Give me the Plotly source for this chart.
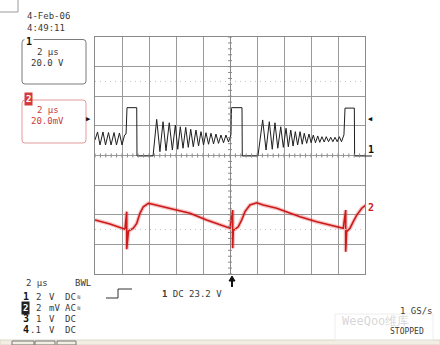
import plotly.graph_objects as go

W, H = 440, 345
GX0, GX1, GY0, GY1 = 95, 365, 37, 274

# ---- data ----
# Channel 1 (V, 20 V/div), time in microseconds, trigger at 0
ch1_t = [-10.00, -9.81, -9.63, -9.41, -9.22, -9.00, -8.81, -8.59, -8.41, -8.19, -8.00, -7.81, -7.70,
         -7.63, -6.91, -6.89, -5.70,
         -5.43, -5.19, -4.96, -4.74, -4.50, -4.27, -4.05, -3.87, -3.68, -3.48, -3.28, -3.09, -2.91,
         -2.72, -2.52, -2.33, -2.15, -1.96, -1.78, -1.59, -1.41, -1.22, -1.04, -0.85, -0.67, -0.48,
         -0.30, -0.11, 0.07, 0.11, 0.89, 0.91, 2.07,
         2.42, 2.67, 2.91, 3.13, 3.33, 3.54, 3.76, 3.95, 4.15, 4.32, 4.50, 4.67, 4.84, 5.01, 5.19,
         5.35, 5.50, 5.68, 5.85, 6.01, 6.17, 6.33, 6.50, 6.65, 6.81, 6.98, 7.13, 7.30, 7.46, 7.62,
         7.78, 7.94, 8.10, 8.26, 8.44, 8.52, 9.21, 9.23, 10.00]
ch1_v = [10.5, 15.9, 7.1, 15.9, 7.1, 15.5, 7.1, 15.5, 7.1, 15.2, 7.1, 13.8, 14.5,
         32.3, 32.3, -0.3, -0.3,
         24.4, 2.6, 22.8, 3.2, 22.1, 3.7, 20.6, 4.2, 19.4, 4.9, 19.0, 5.5, 17.7,
         5.9, 17.2, 6.4, 16.1, 7.1, 15.4, 7.6, 15.0, 7.8, 14.5, 8.2, 13.8, 8.6,
         13.8, 9.1, 14.0, 32.3, 32.3, -0.3, -0.3,
         24.0, 3.7, 22.8, 4.2, 22.1, 4.9, 19.4, 5.5, 18.4, 5.9, 17.2, 6.4, 16.1, 7.1, 16.1,
         7.6, 15.0, 8.2, 14.5, 8.6, 13.8, 8.6, 13.2, 8.9, 12.7, 9.1, 12.7, 9.3, 12.3, 9.3,
         12.3, 9.3, 12.7, 9.3, 14.0, 32.0, 32.0, -0.3, -0.3]

# Channel 2 (mV, 20 mV/div)
ch2_t = [-10.0, -8.89, -7.78, -7.65, -7.65, -7.52, -7.16, -6.91, -6.67, -6.42, -6.05, -5.80, -4.20,
         -2.96, -1.73, -0.50, 0.0, 0.20, 0.20, 0.24, 0.61, 0.87, 1.11, 1.48, 1.98, 2.47, 3.46,
         4.44, 5.19, 6.42, 7.65, 8.39, 8.57, 8.57, 8.64, 8.89, 9.13, 9.39, 9.76, 10.07]
ch2_v = [-43.5, -46.2, -49.8, -37.9, -63.3, -51.0, -49.1, -45.8, -39.0, -34.6, -32.3, -32.7, -36.3,
         -39.0, -43.5, -47.6, -49.1, -36.8, -62.6, -50.8, -48.1, -43.5, -37.9, -33.4, -31.9, -33.4, -35.6,
         -39.0, -41.3, -44.7, -47.6, -49.1, -36.8, -64.9, -51.4, -49.1, -44.7, -40.2, -35.6, -33.4]

ch1_scale = 20.0   # V/div
ch2_scale = 20.0   # mV/div

bottom_rows = [("1", "2", "V", "DC"), ("2", "2", "mV", "AC"), ("3", "1", "V", "DC"), ("4", ".1", "V", "DC")]

FONT = "DejaVu Sans Mono"
TXT = "#3a3a3a"


def px(x):
    return x / W


def py(y):
    return 1 - y / H


fig = go.Figure()
fig.add_trace(go.Scatter(x=ch2_t, y=[v / ch2_scale for v in ch2_v], mode="lines",
                         line=dict(color="rgba(225,60,60,0.30)", width=4), hoverinfo="skip"))
fig.add_trace(go.Scatter(x=ch2_t, y=[v / ch2_scale for v in ch2_v], mode="lines",
                         line=dict(color="#cc1a1a", width=1.6), hoverinfo="skip"))
fig.add_trace(go.Scatter(x=ch1_t, y=[v / ch1_scale for v in ch1_v], mode="lines",
                         line=dict(color="#1e1e1e", width=1), hoverinfo="skip"))

shapes = []
# minor ticks on the centre axes
for k in range(-20, 21):
    yy = k * 0.2
    shapes.append(dict(type="line", xref="x", yref="y", x0=-0.15, x1=0.15, y0=yy, y1=yy,
                       line=dict(color="#8a8a8a", width=1)))
for k in range(-25, 26):
    xx = k * 0.4
    shapes.append(dict(type="line", xref="x", yref="y", x0=xx, x1=xx, y0=-0.07, y1=0.07,
                       line=dict(color="#8a8a8a", width=1)))
# dotted reference lines
for yy in (2.5, -2.5):
    shapes.append(dict(type="line", xref="x", yref="y", x0=-10, x1=10, y0=yy, y1=yy,
                       line=dict(color="#c4c4c4", width=1, dash="1px,4px")))


def rrect(x0, y0, x1, y1, r):
    X0, X1 = px(x0), px(x1)
    Y0, Y1 = py(y0), py(y1)
    rx, ry = r / W, r / H
    return (f"M {X0+rx},{Y0} L {X1-rx},{Y0} Q {X1},{Y0} {X1},{Y0-ry} L {X1},{Y1+ry} "
            f"Q {X1},{Y1} {X1-rx},{Y1} L {X0+rx},{Y1} Q {X0},{Y1} {X0},{Y1+ry} "
            f"L {X0},{Y0-ry} Q {X0},{Y0} {X0+rx},{Y0} Z")


shapes.append(dict(type="path", xref="paper", yref="paper", path=rrect(22, 39.5, 86, 84, 3),
                   line=dict(color="#7a7a7a", width=1)))
shapes.append(dict(type="path", xref="paper", yref="paper", path=rrect(22, 100, 86, 143, 3),
                   line=dict(color="#e49a9a", width=1)))
# top-left corner fragment
shapes.append(dict(type="line", xref="paper", yref="paper", x0=px(18), x1=px(18), y0=py(0), y1=py(12),
                   line=dict(color="#999", width=1)))
shapes.append(dict(type="line", xref="paper", yref="paper", x0=px(0), x1=px(18), y0=py(12), y1=py(12),
                   line=dict(color="#999", width=1)))
# ch1 ground marker line at right
shapes.append(dict(type="line", xref="paper", yref="paper", x0=px(365), x1=px(372), y0=py(156), y1=py(156),
                   line=dict(color="#222", width=1)))
# trigger symbol
shapes.append(dict(type="path", xref="paper", yref="paper",
                   path=f"M {px(106)},{py(298)} L {px(118)},{py(298)} L {px(118)},{py(289)} L {px(132)},{py(289)}",
                   line=dict(color="#333", width=1)))
# trigger position arrow stem under the graticule
shapes.append(dict(type="line", xref="paper", yref="paper", x0=px(232), x1=px(232), y0=py(278), y1=py(287),
                   line=dict(color="#111", width=2)))
shapes.append(dict(type="path", xref="paper", yref="paper",
                   path=f"M {px(229)},{py(281)} L {px(232)},{py(276)} L {px(235)},{py(281)} Z",
                   fillcolor="#111", line=dict(color="#111", width=1)))
# bottom strip
shapes.append(dict(type="rect", xref="paper", yref="paper", x0=0, x1=1, y0=0, y1=py(340),
                   fillcolor="#f3eee3", line=dict(color="#ddd6c8", width=1)))
for a, b in ((12, 34), (35, 55), (57, 76)):
    shapes.append(dict(type="rect", xref="paper", yref="paper", x0=px(a), x1=px(b), y0=0, y1=py(341),
                       fillcolor="rgba(0,0,0,0)", line=dict(color="#777", width=1)))
# watermark box
shapes.append(dict(type="rect", xref="paper", yref="paper", x0=px(335), x1=px(433), y0=py(340), y1=py(314),
                   fillcolor="rgba(255,255,255,0)", line=dict(color="#eeeeee", width=1)))

ann = []


def text(x, y, s, size=9, color=TXT, anchor="left", bold=False, **kw):
    if bold:
        s = "<b>" + s + "</b>"
    ann.append(dict(x=px(x), y=py(y), xref="paper", yref="paper", text=s, showarrow=False,
                    xanchor=anchor, yanchor="middle", font=dict(family=FONT, size=size, color=color), **kw))


text(25, 16, "4-Feb-06")
text(25, 27.5, "4:49:11")
text(24, 41, "1", size=10, color="#111", bold=True, bgcolor="white")
text(35, 52, "2 μs")
text(29, 62.5, "20.0 V")
text(24, 98.5, "2", size=9, color="#ffffff", bgcolor="#d43a3a", bold=True)
text(35, 110, "2 μs", color="#c84040")
text(29, 120.5, "20.0mV", color="#c84040")

text(24, 283, "2 μs")
text(73, 283, "BWL")
rows_y = [296.5, 307.5, 318.5, 329.5]
for (ch, sc, unit, cp), yy in zip(bottom_rows, rows_y):
    if ch == "2":
        text(21, yy, ch, size=9, color="#ffffff", bgcolor="#222", bold=True)
    else:
        text(21, yy, ch, size=10, color="#111", bold=True)
    text(43, yy, sc, anchor="right")
    text(47, yy, unit)
    text(63, yy, cp)
for yy in rows_y[:2]:
    text(75, yy, "≋", size=6)
text(160, 293.5, "<b>1</b> DC 23.2 V")
text(435, 310.5, "1 GS/s", anchor="right")
text(340, 321, "WeeQoo维库", size=12, color="rgba(150,150,150,0.40)")
text(388, 331.5, "STOPPED", size=8)

# markers around the graticule
text(93, 119, "▶", size=7, color="#111", anchor="right")
text(366, 119, "◀", size=7, color="#111")
text(366, 149, "1", size=10, color="#111", bold=True)
text(366, 207, "2", size=10, color="#cc2020", bold=True)

fig.update_layout(
    width=W, height=H, margin=dict(l=0, r=0, t=0, b=0),
    paper_bgcolor="white", plot_bgcolor="white", showlegend=False,
    shapes=shapes, annotations=ann,
    xaxis=dict(domain=[px(GX0), px(GX1)], range=[-10, 10], dtick=2, tick0=-10,
               showgrid=True, gridcolor="#9a9a9a", gridwidth=1, zeroline=True, zerolinecolor="#8a8a8a",
               zerolinewidth=1, showticklabels=False, ticks="", showline=True, mirror=True,
               linecolor="#8a8a8a", linewidth=1, fixedrange=True),
    yaxis=dict(domain=[py(GY1), py(GY0)], range=[-4, 4], dtick=1, tick0=-4,
               showgrid=True, gridcolor="#9a9a9a", gridwidth=1, zeroline=False,
               showticklabels=False, ticks="", showline=True, mirror=True,
               linecolor="#8a8a8a", linewidth=1, fixedrange=True),
)

fig.write_html("out.html", config={"displayModeBar": False})
